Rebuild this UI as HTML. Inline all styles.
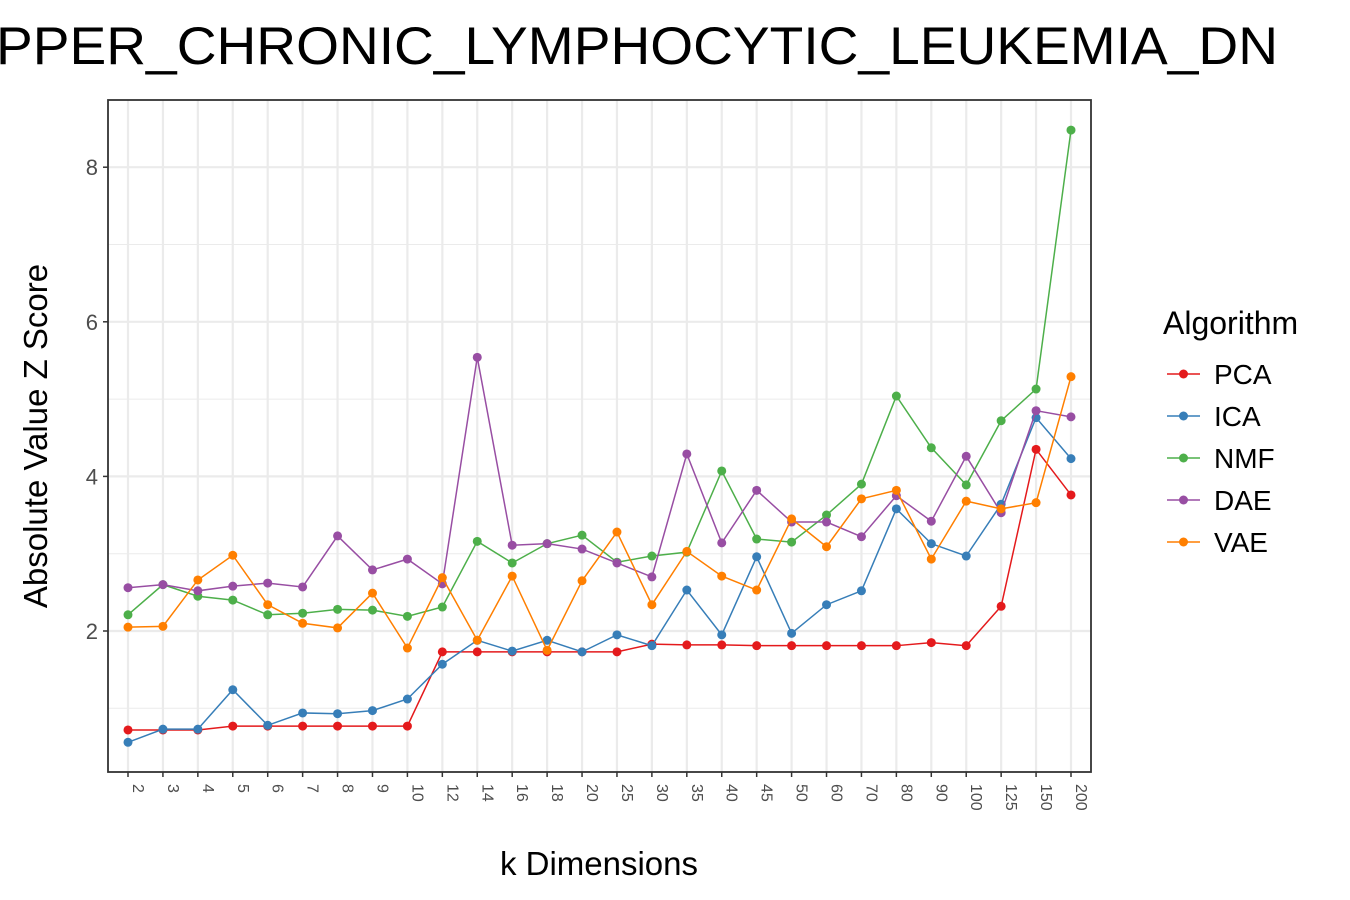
<!DOCTYPE html>
<html><head><meta charset="utf-8"><style>
body{margin:0;background:#fff;}
svg{display:block;font-family:"Liberation Sans",Arial,sans-serif;}
</style></head><body>
<svg id="chart" width="1350" height="900">
<text x="-4" y="64" font-size="53" textLength="1282" lengthAdjust="spacingAndGlyphs" fill="#000">PPER_CHRONIC_LYMPHOCYTIC_LEUKEMIA_DN</text>
<g id="plot"></g>
</svg>
<script>
const categories=["2","3","4","5","6","7","8","9","10","12","14","16","18","20","25","30","35","40","45","50","60","70","80","90","100","125","150","200"];
const pca=[0.72,0.72,0.72,0.77,0.77,0.77,0.77,0.77,0.77,1.73,1.73,1.73,1.73,1.73,1.73,1.83,1.82,1.82,1.81,1.81,1.81,1.81,1.81,1.85,1.81,2.32,4.35,3.76];
const ica=[0.56,0.73,0.73,1.24,0.78,0.94,0.93,0.97,1.12,1.57,1.88,1.74,1.88,1.73,1.95,1.81,2.53,1.95,2.96,1.97,2.34,2.52,3.58,3.13,2.97,3.64,4.76,4.23];
const nmf=[2.21,2.6,2.45,2.4,2.21,2.23,2.28,2.27,2.19,2.31,3.16,2.88,3.13,3.24,2.89,2.97,3.02,4.07,3.19,3.15,3.5,3.9,5.04,4.37,3.89,4.72,5.13,8.48];
const dae=[2.56,2.6,2.52,2.58,2.62,2.57,3.23,2.79,2.93,2.61,5.54,3.11,3.13,3.06,2.88,2.7,4.29,3.14,3.82,3.41,3.41,3.22,3.75,3.42,4.26,3.53,4.85,4.77];
const vae=[2.05,2.06,2.66,2.98,2.34,2.1,2.04,2.49,1.78,2.69,1.88,2.71,1.75,2.65,3.28,2.34,3.03,2.71,2.53,3.45,3.09,3.71,3.82,2.93,3.68,3.58,3.66,5.29];
const yTicks=[2,4,6,8];
const seriesNames=["PCA","ICA","NMF","DAE","VAE"];
const seriesColors=["#e41a1c","#377eb8","#4daf4a","#984ea3","#ff7f00"];
const seriesData=[pca,ica,nmf,dae,vae];

const NS="http://www.w3.org/2000/svg";
const L=108,R=1091,T=100,B=772;
const x0=128,x1=1071;
const xs=i=>x0+(x1-x0)*i/(categories.length-1);
const ys=v=>631-(v-2)*77.3;
const g=document.getElementById('plot');
function mk(tag,attrs,parent){const e=document.createElementNS(NS,tag);for(const k in attrs)e.setAttribute(k,attrs[k]);(parent||g).appendChild(e);return e;}

for(let v=1;v<=9;v+=2){const y=ys(v);if(y>T&&y<B){const l=mk('line',{x1:L,x2:R,y1:y,y2:y,stroke:'#ebebeb','stroke-width':1});

}}
yTicks.forEach(v=>{const y=ys(v);
const l=mk('line',{x1:L,x2:R,y1:y,y2:y,stroke:'#ebebeb','stroke-width':2.2});


const t=mk('line',{x1:L-5,x2:L,y1:y,y2:y,stroke:'#333','stroke-width':1.5});


const tx=mk('text',{x:L-10,y:y+8,'text-anchor':'end','font-size':22,fill:'#4d4d4d'});
tx.textContent=v;


});
categories.forEach((c,i)=>{const x=xs(i);
const l=mk('line',{x1:x,x2:x,y1:T,y2:B,stroke:'#ebebeb','stroke-width':2.2});


const t=mk('line',{x1:x,x2:x,y1:B,y2:B+5,stroke:'#333','stroke-width':1.5});


const tx=mk('text',{x:0,y:0,transform:`translate(${x+5},${B+12}) rotate(90)`,'text-anchor':'start','font-size':16,fill:'#4d4d4d'});
tx.textContent=c;


});
seriesData.forEach((d,s)=>{
const p=mk('polyline',{points:d.map((v,i)=>xs(i)+','+ys(v)).join(' '),fill:'none',stroke:seriesColors[s],'stroke-width':1.5});


d.forEach((v,i)=>{const c=mk('circle',{cx:xs(i),cy:ys(v),r:4.5,fill:seriesColors[s]});

});
});
const fr=mk('rect',{x:L,y:T,width:R-L,height:B-T,fill:'none',stroke:'#333','stroke-width':1.8});


const xt=mk('text',{x:599,y:875,'text-anchor':'middle','font-size':33,fill:'#000'});
xt.textContent='k Dimensions';


const yt=mk('text',{x:0,y:0,transform:'translate(47,436) rotate(-90)','text-anchor':'middle','font-size':33,fill:'#000'});
yt.textContent='Absolute Value Z Score';


const lt=mk('text',{x:1163,y:334,'font-size':32,fill:'#000'});
lt.textContent='Algorithm';


seriesNames.forEach((n,s)=>{const y=374+s*42;
const lg=mk('g',{});


mk('line',{x1:1167,x2:1200,y1:y,y2:y,stroke:seriesColors[s],'stroke-width':1.5},lg);
mk('circle',{cx:1183.5,cy:y,r:4.5,fill:seriesColors[s]},lg);
const t=mk('text',{x:1214,y:y+10,'font-size':28,fill:'#000'},lg);t.textContent=n;
});
</script>
</body></html>
